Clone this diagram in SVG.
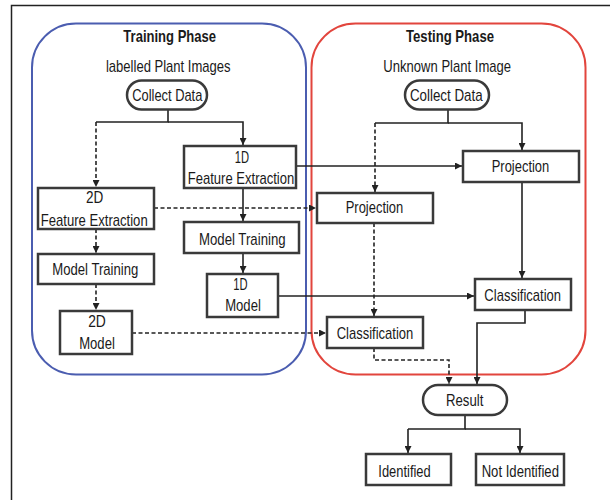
<svg xmlns="http://www.w3.org/2000/svg" width="610" height="500" viewBox="0 0 610 500">
<defs>
<style>
.box{fill:#fff;stroke:#3a3a3a;stroke-width:2.5}
.t{font-family:"Liberation Sans",Arial,sans-serif;font-size:17px;fill:#1a1a1a;text-anchor:middle}
.b{font-weight:bold}
.c{fill:none;stroke:#222;stroke-width:1.6}
.d{stroke-dasharray:4,2.5}
</style>
<marker id="ar" viewBox="0 0 8 8" refX="8" refY="4" markerWidth="7" markerHeight="7" markerUnits="userSpaceOnUse" orient="auto">
<path d="M0,0 L8,4 L0,8 z" fill="#222"/>
</marker>
</defs>
<rect width="610" height="500" fill="#fff"/>
<path d="M11.5,500 V5.5 H610" fill="none" stroke="#222" stroke-width="1.5"/>

<g id="training-phase">
<rect x="32" y="23.5" width="274" height="351" rx="44" fill="none" stroke="#4b5db0" stroke-width="2"/>
<text class="t b" x="169.7" y="41.5" textLength="92.7" lengthAdjust="spacingAndGlyphs">Training Phase</text>
<text class="t" x="168.3" y="72" textLength="124.7" lengthAdjust="spacingAndGlyphs">labelled Plant Images</text>
</g>
<g id="testing-phase">
<rect x="311.5" y="23.5" width="274" height="351" rx="44" fill="none" stroke="#e2453d" stroke-width="2"/>
<text class="t b" x="450" y="41.5" textLength="88" lengthAdjust="spacingAndGlyphs">Testing Phase</text>
<text class="t" x="447.2" y="72" textLength="127.7" lengthAdjust="spacingAndGlyphs">Unknown Plant Image</text>
</g>

<g id="connectors">
<path class="c" d="M168,110 V122 H96"/>
<path class="c" d="M168,122 H243 V145" marker-end="url(#ar)"/>
<path class="c d" d="M96,122 V187" marker-end="url(#ar)"/>
<path class="c" d="M243,188 V221" marker-end="url(#ar)"/>
<path class="c" d="M243,253 V273" marker-end="url(#ar)"/>
<path class="c d" d="M96,229 V253" marker-end="url(#ar)"/>
<path class="c d" d="M96,284 V310" marker-end="url(#ar)"/>
<path class="c d" d="M154,208 H316" marker-end="url(#ar)"/>
<path class="c" d="M296,166 H462" marker-end="url(#ar)"/>
<path class="c" d="M278,296 H474" marker-end="url(#ar)"/>
<path class="c d" d="M132,333 H326" marker-end="url(#ar)"/>
<path class="c" d="M448,110 V123 H375"/>
<path class="c" d="M448,123 H522 V150" marker-end="url(#ar)"/>
<path class="c d" d="M375,123 V192" marker-end="url(#ar)"/>
<path class="c" d="M522,182 V278" marker-end="url(#ar)"/>
<path class="c d" d="M374,223 V316" marker-end="url(#ar)"/>
<path class="c" d="M525,310 V323 H477 V384" marker-end="url(#ar)"/>
<path class="c d" d="M374,348 V360 H449 V384" marker-end="url(#ar)"/>
<path class="c" d="M465,415 V429 H408"/>
<path class="c" d="M408,429 V453" marker-end="url(#ar)"/>
<path class="c" d="M465,429 H520 V453" marker-end="url(#ar)"/>
</g>

<g id="collect-data-train">
<rect class="box" x="127" y="80.5" width="80" height="29" rx="14.5"/>
<text class="t" x="167.3" y="100.5" textLength="70" lengthAdjust="spacingAndGlyphs">Collect Data</text>
</g>
<g id="fe-1d">
<rect class="box" x="184" y="146" width="112" height="42"/>
<text class="t" x="242" y="163" textLength="14.3" lengthAdjust="spacingAndGlyphs">1D</text>
<text class="t" x="241" y="183.8" textLength="106.6" lengthAdjust="spacingAndGlyphs">Feature Extraction</text>
</g>
<g id="fe-2d">
<rect class="box" x="38" y="188" width="116" height="41"/>
<text class="t" x="94.7" y="203.3" textLength="17.3" lengthAdjust="spacingAndGlyphs">2D</text>
<text class="t" x="94.2" y="225.7" textLength="107" lengthAdjust="spacingAndGlyphs">Feature Extraction</text>
</g>
<g id="model-training-2d">
<rect class="box" x="38" y="254" width="116" height="30"/>
<text class="t" x="95.3" y="274.8" textLength="86" lengthAdjust="spacingAndGlyphs">Model Training</text>
</g>
<g id="model-2d">
<rect class="box" x="60" y="311" width="72" height="43"/>
<text class="t" x="97" y="327" textLength="17.7" lengthAdjust="spacingAndGlyphs">2D</text>
<text class="t" x="97" y="348.6" textLength="35.7" lengthAdjust="spacingAndGlyphs">Model</text>
</g>
<g id="model-training-1d">
<rect class="box" x="184" y="222" width="115" height="31"/>
<text class="t" x="242.3" y="245" textLength="86.7" lengthAdjust="spacingAndGlyphs">Model Training</text>
</g>
<g id="model-1d">
<rect class="box" x="207" y="274" width="71" height="43"/>
<text class="t" x="240.4" y="289.5" textLength="14.3" lengthAdjust="spacingAndGlyphs">1D</text>
<text class="t" x="243" y="311.2" textLength="35.7" lengthAdjust="spacingAndGlyphs">Model</text>
</g>

<g id="collect-data-test">
<rect class="box" x="405" y="80.5" width="84" height="29" rx="14.5"/>
<text class="t" x="446.3" y="100.5" textLength="72.7" lengthAdjust="spacingAndGlyphs">Collect Data</text>
</g>
<g id="projection-1d">
<rect class="box" x="463" y="151" width="116" height="31"/>
<text class="t" x="520.5" y="171.7" textLength="57.6" lengthAdjust="spacingAndGlyphs">Projection</text>
</g>
<g id="projection-2d">
<rect class="box" x="317" y="193" width="116" height="30"/>
<text class="t" x="374.5" y="213.3" textLength="57.6" lengthAdjust="spacingAndGlyphs">Projection</text>
</g>
<g id="classification-1d">
<rect class="box" x="475" y="279" width="96" height="31"/>
<text class="t" x="522.7" y="300.9" textLength="76.7" lengthAdjust="spacingAndGlyphs">Classification</text>
</g>
<g id="classification-2d">
<rect class="box" x="327" y="317" width="96" height="31"/>
<text class="t" x="375" y="339" textLength="76.6" lengthAdjust="spacingAndGlyphs">Classification</text>
</g>
<g id="result">
<rect class="box" x="423" y="385" width="84" height="30" rx="15"/>
<text class="t" x="464.7" y="405.5" textLength="37.3" lengthAdjust="spacingAndGlyphs">Result</text>
</g>
<g id="identified">
<rect class="box" x="366" y="454" width="85" height="31"/>
<text class="t" x="404.5" y="477" textLength="52.4" lengthAdjust="spacingAndGlyphs">Identified</text>
</g>
<g id="not-identified">
<rect class="box" x="476" y="454" width="88" height="31"/>
<text class="t" x="520.3" y="477" textLength="77.3" lengthAdjust="spacingAndGlyphs">Not Identified</text>
</g>
</svg>
